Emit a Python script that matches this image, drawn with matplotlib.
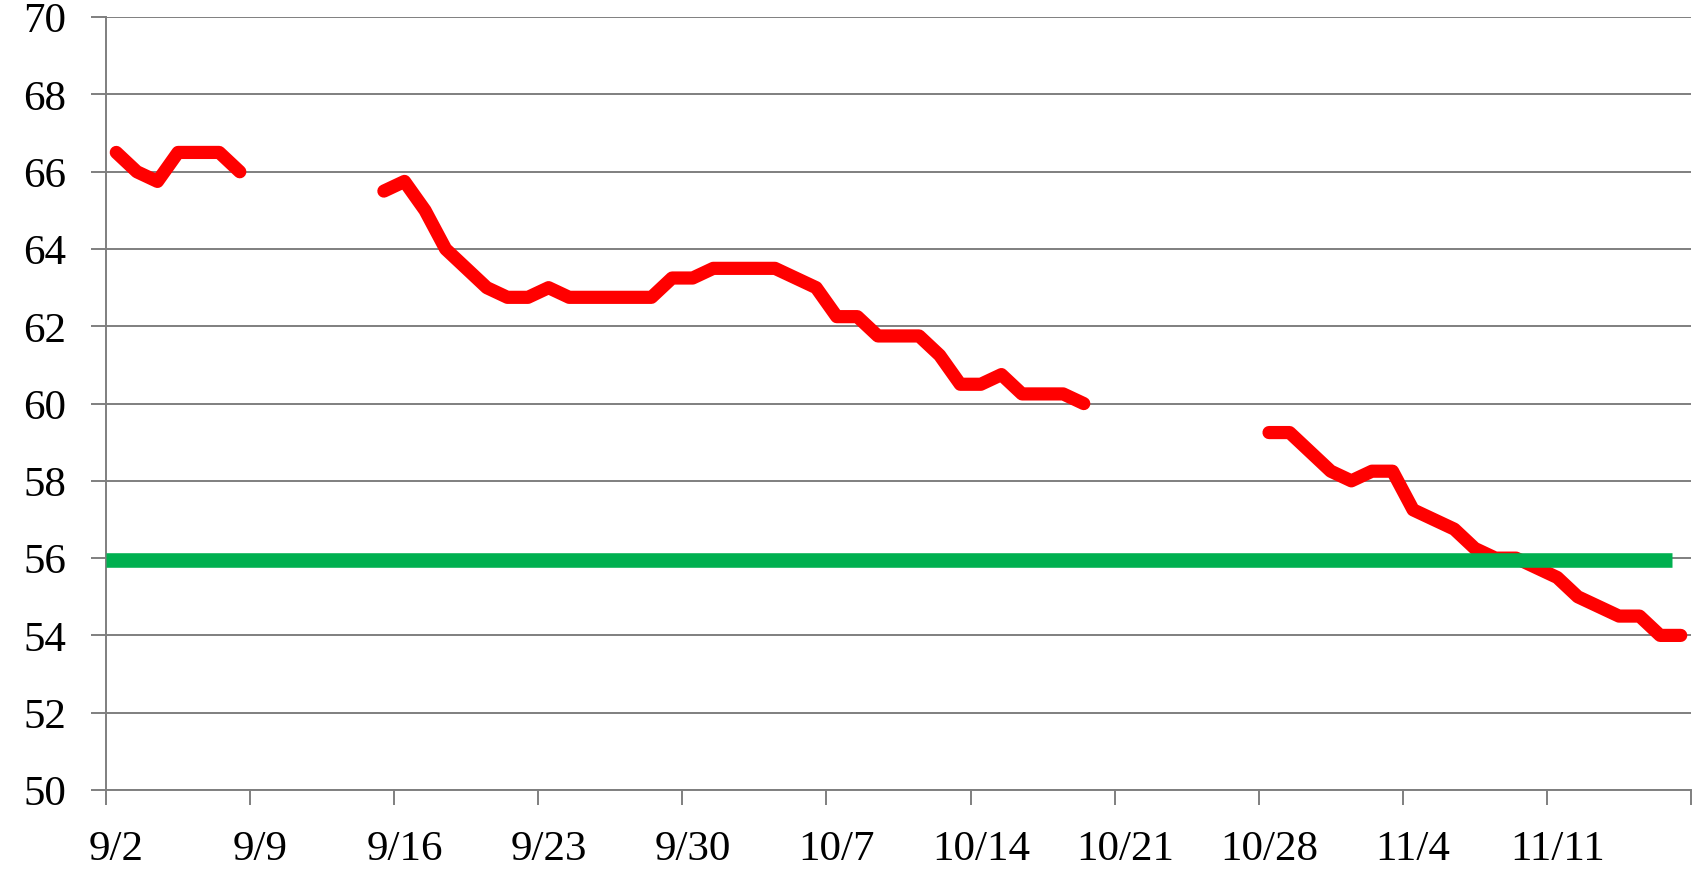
import numpy as np
import matplotlib
matplotlib.use("Agg")
import matplotlib.pyplot as plt

# подписи оси X (раз в неделю)
week_labels = ["9/2", "9/9", "9/16", "9/23", "9/30", "10/7", "10/14",
               "10/21", "10/28", "11/4", "11/11"]

# значения по дням, начиная с 9/2 (None - нет данных)
values = [66.5, 66.0, 65.75, 66.5, 66.5, 66.5, 66.0,
          None, None, None, None, None, None,
          65.5, 65.75, 65.0, 64.0, 63.5, 63.0, 62.75, 62.75, 63.0,
          62.75, 62.75, 62.75, 62.75, 62.75, 63.25, 63.25,
          63.5, 63.5, 63.5, 63.5, 63.25, 63.0, 62.25, 62.25,
          61.75, 61.75, 61.75, 61.25, 60.5, 60.5, 60.75,
          60.25, 60.25, 60.25, 60.0,
          None, None, None, None, None, None, None, None,
          59.25, 59.25, 58.75, 58.25, 58.0, 58.25, 58.25,
          57.25, 57.0, 56.75, 56.25, 56.0, 56.0, 55.75,
          55.5, 55.0, 54.75, 54.5, 54.5, 54.0, 54.0]

# целевой уровень
target = 55.95
target_days = [0, 76.1]

n_days = len(values)
y = np.array([np.nan if v is None else v for v in values])
x = np.arange(n_days) + 0.5  # точка в центре дня

fig = plt.figure(figsize=(17, 8.795), dpi=100)
ax = fig.add_axes([106 / 1700, 1 - 790 / 879, (1691 - 106) / 1700, (790 - 17.7) / 879])

gray = "#7f7f7f"
ax.set_xlim(0, n_days)
ax.set_ylim(50, 70)
ax.set_yticks(np.arange(50, 71, 2))
ax.yaxis.grid(True, color=gray, linewidth=1.4, zorder=0)
ax.set_axisbelow(True)

ax.plot(x, y, color="#ff0000", linewidth=9.5, solid_capstyle="round",
        solid_joinstyle="round", zorder=3)
ax.plot(target_days, [target, target], color="#00b050", linewidth=10.5,
        solid_capstyle="butt", zorder=4)

# деления на границах недель, подписи в центре дня
ax.set_xticks(np.arange(0, n_days + 1, 7))
ax.set_xticklabels([])
ax.set_xticks(np.arange(len(week_labels)) * 7 + 0.5, minor=True)
ax.set_xticklabels(week_labels, minor=True)

font = {"family": "Liberation Serif", "size": 31}
for lab in ax.get_xticklabels(minor=True) + ax.get_yticklabels():
    lab.set_fontfamily(font["family"])
    lab.set_fontsize(font["size"])
    lab.set_color("black")

ax.tick_params(axis="x", which="major", direction="out", length=10.8,
               width=1.4, color=gray)
ax.tick_params(axis="x", which="minor", length=0, pad=29)
ax.tick_params(axis="y", direction="out", length=10.8, width=1.4,
               color=gray, pad=18)

for side in ["top", "right"]:
    ax.spines[side].set_visible(False)
for side in ["left", "bottom"]:
    ax.spines[side].set_color(gray)
    ax.spines[side].set_linewidth(1.4)

fig.savefig("out.png", dpi=100)
